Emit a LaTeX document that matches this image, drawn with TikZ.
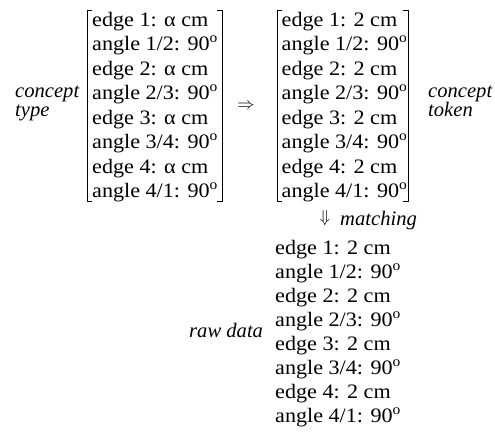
\documentclass[tikz,border=0pt]{standalone}
\usepackage{fontspec}
\setmainfont{Liberation Serif}[FakeStretch=1.08]
\newfontfamily\lblfont{Liberation Serif}
\newcommand{\dgr}{\textsuperscript{o}}
\begin{document}
\begin{tikzpicture}[x=1pt,y=-1pt,
  txt/.style={anchor=base west, inner sep=0pt, font=\fontsize{20.5}{24}\selectfont},
  lbl/.style={anchor=base west, inner sep=0pt, font=\fontsize{20.6}{24}\lblfont\itshape},
  sym/.style={anchor=center, inner sep=0pt, font=\fontsize{18}{20}\selectfont},
  brk/.style={line width=0.9pt}]
\useasboundingbox (0,0) rectangle (495,432);
% left matrix (concept type)
\foreach \t [count=\i from 0] in {edge 1: α cm, angle 1/2: 90\dgr, edge 2: α cm, angle 2/3: 90\dgr, edge 3: α cm, angle 3/4: 90\dgr, edge 4: α cm, angle 4/1: 90\dgr}
  \node[txt] (a\i) at (92,{26+24.5*\i}) {\t};
\draw[brk] (92,10.5) -- (87,10.5) -- (87,201) -- (92,201);
\draw[brk] (217,10.5) -- (222,10.5) -- (222,201) -- (217,201);
\node[lbl] (ct1) at (15,97) {concept};
\node[lbl] (ct2) at (15,116) {type};
% implication arrow
\node[sym] (imp) at (246,106) {$\Rightarrow$};
% right matrix (concept token)
\foreach \t [count=\i from 0] in {edge 1: 2 cm, angle 1/2: 90\dgr, edge 2: 2 cm, angle 2/3: 90\dgr, edge 3: 2 cm, angle 3/4: 90\dgr, edge 4: 2 cm, angle 4/1: 90\dgr}
  \node[txt] (b\i) at (281.5,{26+24.5*\i}) {\t};
\draw[brk] (282,10.5) -- (277,10.5) -- (277,201) -- (282,201);
\draw[brk] (403,10.5) -- (408,10.5) -- (408,201) -- (403,201);
\node[lbl] (tk1) at (428,97) {concept};
\node[lbl] (tk2) at (428,116) {token};
% matching
\node[sym] (down) at (325,218) {$\Downarrow$};
\node[lbl] (match) at (340,225) {matching};
% raw data
\foreach \t [count=\i from 0] in {edge 1: 2 cm, angle 1/2: 90\dgr, edge 2: 2 cm, angle 2/3: 90\dgr, edge 3: 2 cm, angle 3/4: 90\dgr, edge 4: 2 cm, angle 4/1: 90\dgr}
  \node[txt] (c\i) at (275,{254+24*\i}) {\t};
\node[lbl] (raw) at (189,337) {raw data};
\end{tikzpicture}
\end{document}
